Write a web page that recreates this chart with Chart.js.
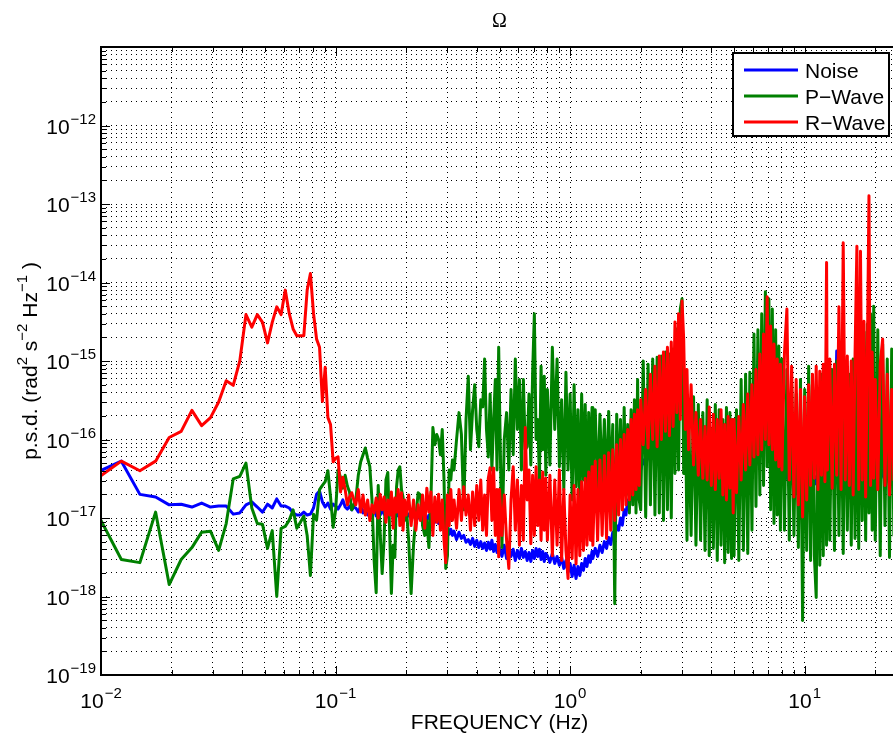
<!DOCTYPE html>
<html>
<head>
<meta charset="utf-8">
<script src="https://cdn.jsdelivr.net/npm/chart.js@4.4.0/dist/chart.umd.min.js"></script>
<style>
html,body{margin:0;padding:0;background:#fff;overflow:hidden;width:893px;height:740px}
canvas{display:block}
</style>
</head>
<body>
<canvas id="c" width="900" height="740"></canvas>
<script>
// ---------------- DATA ----------------
const chartTitle = 'Ω';
const xAxisTitle = 'FREQUENCY (Hz)';
const seriesNames = ['Noise', 'P−Wave', 'R−Wave'];
const seriesColors = ['#0000ff', '#008000', '#ff0000'];

const xTickValues = [0.01, 0.1, 1, 10];
const xTickExponents = ['−2', '−1', '0', '1'];
const yTickValues = [1e-19, 1e-18, 1e-17, 1e-16, 1e-15, 1e-14, 1e-13, 1e-12];
const yTickExponents = ['−19', '−18', '−17', '−16', '−15', '−14', '−13', '−12'];

// low-frequency bins (Hz)
const freqLow = [0.00977, 0.01221, 0.01465, 0.01709, 0.01953, 0.02197, 0.02441, 0.02686, 0.0293, 0.03174,
  0.03418, 0.03662, 0.03906, 0.0415, 0.04395, 0.04639, 0.04883, 0.05127, 0.05371, 0.05615,
  0.05859, 0.06104, 0.06348, 0.06592, 0.06836, 0.0708, 0.07324, 0.07568, 0.07813, 0.08057,
  0.08301, 0.08545, 0.08789, 0.09033, 0.09277, 0.09521, 0.09766, 0.1001, 0.1025, 0.105,
  0.1074, 0.1099, 0.1123, 0.1147, 0.1172, 0.1196];

// higher-frequency points (Hz)
const freqHigh = [
  0.122,0.125,0.128,0.131,0.134,0.137,0.14,0.143,0.146,0.149,0.152,0.155,0.158,0.161,0.164,0.167,0.17,0.173,0.176,0.179,0.182,0.185,0.188,0.191,0.194,0.197,
  0.2,0.205,0.21,0.215,0.22,0.225,0.23,0.235,0.24,0.245,0.25,0.255,0.26,0.265,0.27,0.275,0.28,0.285,0.29,0.295,0.3,0.305,0.31,0.315,
  0.32,0.328,0.336,0.344,0.352,0.36,0.368,0.376,0.384,0.392,0.4,0.408,0.416,0.424,0.432,0.44,0.448,0.456,0.464,0.472,0.48,0.488,0.496,
  0.5,0.512,0.524,0.536,0.548,0.56,0.572,0.584,0.596,0.608,0.62,0.632,0.644,0.656,0.668,0.68,0.692,0.704,0.716,0.728,0.74,0.752,0.764,0.776,0.788,
  0.8,0.82,0.84,0.86,0.88,0.9,0.92,0.94,0.96,0.98,1.0,1.02,1.04,1.06,1.08,1.1,1.12,1.14,1.16,1.18,1.2,1.22,1.24,
  1.25,1.28,1.31,1.34,1.37,1.4,1.43,1.46,1.49,1.52,1.55,1.58,1.61,1.64,1.67,1.7,1.73,1.76,1.79,1.82,1.85,1.88,1.91,1.94,1.97,
  2.0,2.05,2.1,2.15,2.2,2.25,2.3,2.35,2.4,2.45,2.5,2.55,2.6,2.65,2.7,2.75,2.8,2.85,2.9,2.95,3.0,3.05,3.1,3.15,
  3.2,3.28,3.36,3.44,3.52,3.6,3.68,3.76,3.84,3.92,4.0,4.08,4.16,4.24,4.32,4.4,4.48,4.56,4.64,4.72,4.8,4.88,4.96,
  5.0,5.12,5.24,5.36,5.48,5.6,5.72,5.84,5.96,6.08,6.2,6.32,6.44,6.56,6.68,6.8,6.92,7.04,7.16,7.28,7.4,7.52,7.64,7.76,7.88,
  8.0,8.2,8.4,8.6,8.8,9.0,9.2,9.4,9.6,9.8,10.0,10.2,10.4,10.6,10.8,11.0,11.2,11.4,11.6,11.8,12.0,12.2,12.4,
  12.5,12.8,13.1,13.4,13.7,14.0,14.3,14.6,14.9,15.2,15.5,15.8,16.1,16.4,16.7,17.0,17.3,17.6,17.9,18.2,18.5,18.8,19.1,19.4,19.7,
  20,20.5,21,21.5,22,22.5,23,23.5,24,24.5,25];

// Noise p.s.d.
const noiseLow = [3.9e-17, 5.3e-17, 2.0e-17, 1.85e-17, 1.47e-17, 1.5e-17, 1.38e-17, 1.55e-17, 1.38e-17, 1.42e-17,
  1.42e-17, 1.12e-17, 1.16e-17, 1.47e-17, 1.6e-17, 1.38e-17, 1.19e-17, 1.5e-17, 1.34e-17, 1.75e-17,
  1.42e-17, 1.42e-17, 1.34e-17, 1.16e-17, 1.09e-17, 1.09e-17, 1.19e-17, 1.09e-17, 1.12e-17, 1.34e-17,
  2.0e-17, 2.2e-17, 1.6e-17, 1.38e-17, 1.55e-17, 1.3e-17, 1.5e-17, 1.42e-17, 1.3e-17, 1.47e-17,
  1.7e-17, 1.38e-17, 1.3e-17, 1.42e-17, 1.27e-17, 1.38e-17];
const noiseHigh = [
  1.34e-17,1.19e-17,1.42e-17,1.16e-17,1.3e-17,1.09e-17,1.27e-17,1.12e-17,1.34e-17,1.06e-17,1.23e-17,1.09e-17,1.3e-17,1.12e-17,1.27e-17,1.03e-17,1.23e-17,1.09e-17,1.34e-17,1.16e-17,1.27e-17,1.06e-17,1.23e-17,1.12e-17,1.3e-17,1.09e-17,
  1.19e-17,1.06e-17,1.23e-17,1.03e-17,1.19e-17,1.0e-17,1.16e-17,9.6e-18,1.12e-17,9.3e-18,1.09e-17,9.0e-18,1.06e-17,8.8e-18,1.03e-17,8.5e-18,9.6e-18,7.8e-18,8.3e-18,7.0e-18,7.6e-18,6.2e-18,7.2e-18,6.0e-18,
  6.8e-18,5.3e-18,6.6e-18,5.5e-18,6.0e-18,4.9e-18,5.3e-18,4.6e-18,5.5e-18,4.35e-18,5.2e-18,4.2e-18,5.0e-18,4.1e-18,4.8e-18,3.86e-18,4.9e-18,4.0e-18,5.2e-18,3.75e-18,4.6e-18,3.64e-18,4.5e-18,
  4.1e-18,3.24e-18,4.5e-18,3.05e-18,4.2e-18,3.24e-18,4.0e-18,2.88e-18,3.86e-18,3.05e-18,4.1e-18,3.15e-18,3.75e-18,2.88e-18,3.64e-18,2.8e-18,3.86e-18,3.05e-18,4.1e-18,3.24e-18,4.0e-18,2.96e-18,3.75e-18,2.8e-18,3.54e-18,
  3.3e-18,2.72e-18,3.54e-18,2.64e-18,3.24e-18,2.5e-18,3.15e-18,2.28e-18,2.88e-18,2.02e-18,2.64e-18,1.8e-18,2.5e-18,1.7e-18,2.41e-18,1.85e-18,2.64e-18,2.15e-18,3.05e-18,2.41e-18,3.3e-18,2.72e-18,3.75e-18,
  3.05e-18,4.1e-18,3.24e-18,4.5e-18,3.64e-18,5.0e-18,4.1e-18,5.65e-18,4.6e-18,6.6e-18,5.65e-18,8.0e-18,7.0e-18,1.0e-17,8.1e-18,1.27e-17,1.09e-17,1.7e-17,1.42e-17,2.3e-17,1.8e-17,3.2e-17,2.4e-17,4.75e-17,3.5e-17,
  4.1e-17,5.5e-17,4.6e-17,6.4e-17,5.5e-17,7.8e-17,6.8e-17,1.0e-16,8.3e-17,1.27e-16,1.0e-16,1.42e-16,1.19e-16,1.8e-16,1.42e-16,2.28e-16,1.8e-16,2.8e-16,2.28e-16,3.43e-16,4.1e-16,1.8e-16,8.6e-17,6.4e-17,
  5.2e-17,4.1e-17,4.75e-17,3.5e-17,4.35e-17,3.2e-17,4.1e-17,2.9e-17,3.86e-17,3.05e-17,3.64e-17,2.72e-17,3.43e-17,2.56e-17,3.2e-17,2.4e-17,3.05e-17,2.28e-17,3.0e-17,2.35e-17,3.1e-17,2.5e-17,3.3e-17,
  2.6e-17,3.5e-17,2.4e-17,3.86e-17,2.72e-17,4.35e-17,3.05e-17,5.2e-17,3.64e-17,6.4e-17,4.75e-17,8.6e-17,6.4e-17,1.16e-16,8.6e-17,1.8e-16,1.34e-16,1.0e-16,6.4e-17,5.2e-17,4.1e-17,3.5e-17,3.05e-17,3.2e-17,2.6e-17,
  3.5e-17,4.35e-17,3.2e-17,4.1e-17,2.9e-17,3.64e-17,2.56e-17,3.3e-17,2.4e-17,3.1e-17,2.28e-17,3.05e-17,2.4e-17,3.2e-17,2.56e-17,3.43e-17,2.72e-17,3.64e-17,2.9e-17,3.86e-17,3.05e-17,4.1e-17,3.2e-17,
  3.05e-17,4.1e-17,2.72e-17,3.86e-17,1.34e-15,3.2e-17,2.56e-17,3.64e-17,2.72e-17,4.1e-17,2.9e-17,3.86e-17,2.56e-17,3.64e-17,2.72e-17,4.1e-17,3.05e-17,4.35e-17,3.2e-17,4.6e-17,3.43e-17,4.9e-17,3.64e-17,4.6e-17,3.43e-17,
  3.2e-17,4.35e-17,3.05e-17,4.1e-17,2.9e-17,3.86e-17,2.72e-17,3.64e-17,2.56e-17,3.43e-17,2.9e-17];

// P-Wave p.s.d.
const pWaveLow = [1.06e-17, 2.96e-18, 2.7e-18, 1.19e-17, 1.42e-18, 2.96e-18, 4.2e-18, 6.6e-18, 6.8e-18, 3.86e-18,
  8.5e-18, 3.15e-17, 3.4e-17, 5.0e-17, 1.34e-17, 8.5e-18, 8.3e-18, 4.1e-18, 6.9e-18, 1.0e-18,
  7.4e-18, 7.8e-18, 9.4e-18, 1.27e-17, 7.4e-18, 8.8e-18, 1.06e-17, 6.0e-18, 1.85e-18, 1.12e-17,
  9.4e-18, 2.3e-17, 2.6e-17, 2.9e-17, 4.0e-17, 1.85e-17, 7.6e-18, 1.27e-17, 4.1e-17, 3.3e-17,
  2.4e-17, 3.5e-17, 2.56e-17, 2.15e-17, 1.27e-17, 1.47e-17];
const pWaveHigh = [
  1.7e-17,3.5e-17,5.2e-17,6.4e-17,7.8e-17,5.8e-17,4.5e-17,1.7e-17,2.9e-18,1.12e-18,2.6e-17,6.4e-18,1.96e-18,5.2e-18,3.05e-17,3.8e-17,7.0e-18,1.09e-18,4.5e-18,3.15e-18,2.5e-17,4.1e-17,4.5e-17,2.3e-17,1.85e-17,9.3e-18,
  1.47e-17,5.2e-18,1.09e-18,4.5e-18,1.03e-17,2.1e-17,1.96e-17,8.0e-18,6.0e-18,9.3e-18,4.2e-18,1.7e-17,1.42e-16,8.6e-17,1.16e-16,1.0e-16,6.4e-17,1.34e-16,3.05e-17,2.28e-18,3.3e-18,4.1e-17,3.05e-17,5.5e-17,
  4.1e-17,1.0e-16,2.2e-16,1.16e-16,1.27e-17,1.8e-16,6.4e-16,7.4e-17,2.4e-16,5.0e-16,1.34e-16,8.1e-17,3.2e-16,2.6e-16,1.06e-15,1.34e-16,6.0e-17,3.8e-16,4.1e-17,1.8e-16,5.8e-16,4.1e-17,1.5e-15,
  3.2e-16,4.2e-18,1.0e-16,2.2e-16,4.1e-17,4.35e-16,6.4e-17,1.06e-15,1.34e-16,5.8e-16,4.1e-17,5.8e-16,7.4e-17,8.1e-17,3.8e-16,4.75e-17,6.8e-16,4.0e-15,1.0e-16,1.8e-16,3.05e-17,8.6e-16,7.4e-17,6.4e-16,3.5e-17,
  4.35e-16,4.75e-17,1.5e-15,1.34e-16,1.06e-15,4.5e-17,3.2e-16,2.3e-17,7.2e-16,4.1e-17,3.8e-16,1.7e-17,5.0e-16,2.5e-17,2.4e-16,1.16e-17,3.8e-16,3.05e-17,2.8e-16,1.47e-17,2.2e-16,2.5e-17,2.56e-16,
  3.05e-17,2.4e-16,1.96e-17,2.1e-16,2.6e-17,1.8e-16,1.85e-17,2.28e-16,2.3e-17,1.55e-16,8.1e-19,2.1e-16,1.7e-17,1.8e-16,1.27e-17,2.56e-16,1.96e-17,1.55e-16,1.16e-17,2.4e-16,1.47e-17,3.2e-16,1.16e-17,5.8e-16,1.7e-17,
  1.27e-17,1.0e-15,1.03e-17,9.1e-16,1.47e-17,1.06e-15,1.09e-17,1.12e-15,1.16e-17,1.16e-15,9.3e-18,1.3e-15,1.27e-17,1.23e-15,1.0e-17,1.42e-15,3.7e-17,2.56e-15,4.1e-17,4.6e-15,6.2e-15,3.7e-17,3.2e-16,5.2e-18,
  2.4e-16,6.0e-18,3.5e-16,4.5e-18,2.8e-16,5.2e-18,2.2e-16,3.86e-18,3.2e-16,3.3e-18,1.34e-16,4.1e-18,2.8e-16,2.88e-18,2.4e-16,4.5e-18,1.8e-16,2.7e-18,2.56e-16,3.64e-18,2.2e-16,3.05e-18,1.8e-16,
  3.3e-18,2.4e-16,2.88e-18,5.8e-16,3.86e-18,6.8e-16,3.54e-18,7.2e-16,7.0e-18,2.2e-15,1.4e-17,2.5e-15,1.96e-17,4.0e-15,2.6e-17,7.6e-15,4.5e-17,6.2e-15,1.27e-17,4.6e-15,8.5e-18,2.5e-15,1.09e-17,1.55e-15,7.0e-18,
  1.06e-15,7.0e-18,7.8e-16,5.2e-18,5.0e-16,6.0e-18,3.8e-16,4.2e-18,5.8e-16,4.95e-19,4.35e-16,3.86e-18,8.6e-16,2.88e-18,5.8e-16,3.3e-18,9.7e-19,4.35e-16,2.5e-18,6.8e-16,3.3e-18,9.1e-16,4.5e-18,
  9.1e-16,5.2e-18,7.8e-16,3.86e-18,1.0e-15,6.0e-18,5.8e-16,3.54e-18,8.6e-16,7.0e-18,6.8e-16,4.5e-18,1.06e-15,5.5e-18,7.8e-16,4.1e-18,1.9e-15,9.3e-18,2.35e-15,5.2e-18,2.96e-15,1.16e-17,4.0e-15,7.0e-18,5.0e-15,
  5.2e-18,2.5e-15,3.3e-18,1.65e-15,8.0e-18,1.06e-15,3.15e-18,1.42e-15,6.0e-18,7.8e-16,4.5e-18];

// R-Wave p.s.d.
const rWaveLow = [3.3e-17, 5.3e-17, 4.0e-17, 5.3e-17, 1.06e-16, 1.27e-16, 2.35e-16, 1.5e-16, 1.9e-16, 3.0e-16,
  5.6e-16, 4.9e-16, 1.0e-15, 3.9e-15, 2.7e-15, 3.9e-15, 3.1e-15, 1.7e-15, 3.1e-15, 4.9e-15,
  3.9e-15, 8.0e-15, 4.0e-15, 2.56e-15, 2.1e-15, 2.1e-15, 2.1e-15, 8.0e-15, 1.3e-14, 4.0e-15,
  1.9e-15, 1.5e-15, 3.05e-16, 8.3e-16, 1.9e-16, 1.55e-16, 5.2e-17, 5.8e-17, 6.0e-17, 2.15e-17,
  3.3e-17, 2.3e-17, 1.47e-17, 1.85e-17, 2.1e-17, 1.7e-17];
const rWaveHigh = [
  1.47e-17,2.3e-17,1.19e-17,1.96e-17,1.09e-17,1.7e-17,9.3e-18,1.47e-17,1.16e-17,1.8e-17,1.0e-17,2.0e-17,1.27e-17,1.85e-17,8.8e-18,1.7e-17,1.09e-17,2.15e-17,7.4e-18,1.8e-17,1.19e-17,2.3e-17,8.0e-18,2.1e-17,7.0e-18,1.7e-17,
  1.09e-17,1.96e-17,8.0e-18,1.7e-17,7.0e-18,1.47e-17,9.3e-18,1.96e-17,7.4e-18,2.4e-17,1.19e-17,2.15e-17,6.0e-18,1.85e-17,8.8e-18,2.0e-17,7.0e-18,1.7e-17,5.2e-18,2.7e-18,1.96e-17,8.0e-18,2.3e-17,9.3e-18,
  1.7e-17,7.4e-18,2.3e-17,9.3e-18,2.5e-17,1.09e-17,1.96e-17,7.0e-18,2.15e-17,8.0e-18,2.6e-17,9.3e-18,3.05e-17,7.0e-18,1.96e-17,6.0e-18,3.2e-17,4.35e-17,9.3e-18,4.35e-17,6.0e-18,2.3e-17,3.2e-18,
  2.3e-17,6.0e-18,1.96e-17,5.2e-18,2.28e-18,1.7e-17,4.5e-17,7.0e-18,3.05e-17,4.5e-18,2.6e-17,5.2e-18,1.42e-16,1.7e-17,4.1e-17,4.7e-18,3.5e-17,6.0e-18,4.5e-17,8.0e-18,3.05e-17,5.2e-18,3.86e-17,7.0e-18,3.2e-17,
  5.2e-18,3.5e-17,3.3e-18,3.05e-17,4.5e-18,4.1e-17,2.88e-18,2.3e-17,3.86e-18,1.7e-18,1.96e-17,3.05e-18,2.6e-17,2.6e-18,2.3e-17,3.3e-18,2.9e-17,3.86e-18,3.2e-17,4.5e-18,3.86e-17,5.2e-18,4.5e-17,
  4.5e-18,5.3e-17,5.2e-18,5.5e-17,6.0e-18,6.2e-17,5.5e-18,6.8e-17,7.0e-18,7.4e-17,9.3e-18,8.6e-17,1.09e-17,1.0e-16,1.27e-17,1.16e-16,1.47e-17,1.34e-16,1.7e-17,1.8e-16,1.96e-17,2.1e-16,2.3e-17,2.4e-16,2.6e-17,
  3.2e-16,8.6e-17,4.35e-16,7.8e-17,6.8e-16,1.0e-16,8.6e-16,8.1e-17,1.16e-15,1.0e-16,1.3e-15,1.27e-16,1.5e-15,1.12e-16,1.75e-15,1.46e-16,3.15e-15,2.2e-16,4.0e-15,1.8e-16,5.8e-15,1.9e-15,1.34e-16,7.8e-16,
  7.4e-17,5.0e-16,4.75e-17,2.2e-16,3.5e-17,1.8e-16,3.2e-17,1.46e-16,3.05e-17,2.6e-16,2.6e-17,2.1e-16,2.3e-17,1.8e-16,3.2e-17,2.4e-16,1.96e-17,1.55e-16,1.7e-17,1.96e-16,2.4e-17,1.8e-16,1.16e-17,
  1.8e-16,2.1e-17,1.96e-16,3.05e-17,2.8e-16,4.1e-17,3.8e-16,4.75e-17,5.0e-16,6.0e-17,7.8e-16,6.4e-17,1.23e-15,7.4e-17,2.2e-15,1.0e-16,6.6e-15,8.6e-17,2.8e-15,7.4e-17,1.65e-15,5.5e-17,1.06e-15,4.5e-17,9.1e-16,
  4.1e-17,1.23e-15,4.6e-15,3.05e-17,8.6e-16,1.85e-17,5.8e-16,1.47e-17,4.35e-16,1.03e-17,3.5e-16,1.7e-17,5.0e-16,2.6e-17,6.8e-16,3.2e-17,8.6e-16,2.3e-17,7.4e-16,3.5e-17,9.1e-16,2.9e-17,1.8e-14,
  4.1e-17,1.06e-15,2.4e-17,9.1e-16,3.5e-17,4.9e-15,2.3e-17,3.2e-14,3.05e-17,1.16e-15,2.6e-17,1.0e-15,1.96e-17,1.23e-15,2.9e-14,2.3e-17,2.5e-14,3.05e-17,3.2e-15,1.85e-17,1.06e-15,1.27e-13,2.6e-17,1.3e-15,3.2e-17,
  5.8e-16,2.3e-17,9.1e-16,1.9e-15,2.6e-17,6.8e-16,1.96e-17,4.35e-16,3.05e-17,5.0e-16,2.4e-17];

// ---------------- BUILD ----------------
const freqAll = freqLow.concat(freqHigh);
function pts(low, high) {
  const v = low.concat(high);
  const n = Math.min(v.length, freqAll.length);
  const out = [];
  for (let i = 0; i < n; i++) out.push({x: freqAll[i], y: v[i]});
  return out;
}
const seriesValues = [pts(noiseLow, noiseHigh), pts(pWaveLow, pWaveHigh), pts(rWaveLow, rWaveHigh)];

const FONT = '"Liberation Sans", Arial, Helvetica, sans-serif';
const BASE = 21, SUP = 15;

function minorTicks(lo, hi) {
  const out = [];
  for (let e = Math.floor(Math.log10(lo)) ; e <= Math.ceil(Math.log10(hi)); e++) {
    for (let m = 1; m <= 9; m++) {
      const v = parseFloat((m * Math.pow(10, e)).toPrecision(6));
      if (v >= lo * 0.9999 && v <= hi * 1.0001) out.push({value: v});
    }
  }
  return out;
}
function isMajor(v) { const l = Math.log10(v); return Math.abs(l - Math.round(l)) < 1e-6; }

function drawPow(ctx, x, y, base, exp, align) {
  ctx.font = BASE + 'px ' + FONT; const wb = ctx.measureText(base).width;
  ctx.font = SUP + 'px ' + FONT; const we = ctx.measureText(exp).width;
  const total = wb + 1 + we;
  const x0 = align === 'center' ? x - total / 2 : x - total;
  ctx.textAlign = 'left'; ctx.textBaseline = 'alphabetic';
  ctx.font = BASE + 'px ' + FONT; ctx.fillText(base, x0, y);
  ctx.font = SUP + 'px ' + FONT; ctx.fillText(exp, x0 + wb + 1, y - 10);
}

const decor = {
  id: 'decor',
  afterDatasetsDraw(chart) {
    const ctx = chart.ctx, a = chart.chartArea;
    const xs = chart.scales.x, ys = chart.scales.y;
    ctx.save();
    ctx.strokeStyle = '#000'; ctx.lineWidth = 1;
    // inner tick marks
    ctx.beginPath();
    xs.ticks.forEach(t => {
      const px = Math.round(xs.getPixelForValue(t.value)) + 0.5;
      const L = isMajor(t.value) ? 9 : 5;
      ctx.moveTo(px, a.bottom); ctx.lineTo(px, a.bottom - L);
      ctx.moveTo(px, a.top); ctx.lineTo(px, a.top + L);
    });
    ys.ticks.forEach(t => {
      const py = Math.round(ys.getPixelForValue(t.value)) + 0.5;
      const L = isMajor(t.value) ? 9 : 5;
      ctx.moveTo(a.left, py); ctx.lineTo(a.left + L, py);
    });
    ctx.stroke();
    // frame
    ctx.lineWidth = 2;
    ctx.beginPath();
    ctx.moveTo(a.right + 2, a.top); ctx.lineTo(a.left, a.top); ctx.lineTo(a.left, a.bottom); ctx.lineTo(a.right + 2, a.bottom);
    ctx.stroke();

    // legend
    const bx = 733, by = 53, bw = 156, bh = 83;
    ctx.fillStyle = '#fff'; ctx.fillRect(bx, by, bw, bh);
    ctx.lineWidth = 2; ctx.strokeStyle = '#000'; ctx.strokeRect(bx, by, bw, bh);
    const rows = [70, 96, 122];
    seriesNames.forEach((name, i) => {
      ctx.strokeStyle = seriesColors[i]; ctx.lineWidth = 3;
      ctx.beginPath(); ctx.moveTo(744, rows[i]); ctx.lineTo(798, rows[i]); ctx.stroke();
      ctx.fillStyle = '#000'; ctx.font = BASE + 'px ' + FONT;
      ctx.textAlign = 'left'; ctx.textBaseline = 'alphabetic';
      ctx.fillText(name, 805, rows[i] + 8);
    });

    // tick labels
    ctx.fillStyle = '#000';
    xTickValues.forEach((v, i) => {
      drawPow(ctx, xs.getPixelForValue(v), 708, '10', xTickExponents[i], 'center');
    });
    yTickValues.forEach((v, i) => {
      drawPow(ctx, 96, ys.getPixelForValue(v) + 8, '10', yTickExponents[i], 'right');
    });

    // x title
    const cx = (a.left + a.right) / 2;
    ctx.font = BASE + 'px ' + FONT; ctx.textAlign = 'center'; ctx.textBaseline = 'alphabetic';
    ctx.fillText(xAxisTitle, cx, 729);

    // title
    ctx.font = '20px "Liberation Serif", "DejaVu Serif", serif';
    ctx.fillText(chartTitle, cx, 27);

    // y title (rotated, with superscripts)
    const segs = [['p.s.d. (rad', 0], ['2', 1], [' s', 0], ['−2', 1], [' Hz', 0], ['−1', 1], [' )', 0]];
    let total = 0;
    segs.forEach(s => { ctx.font = (s[1] ? SUP : BASE) + 'px ' + FONT; s.push(ctx.measureText(s[0]).width); total += s[2]; });
    ctx.translate(37, (a.top + a.bottom) / 2);
    ctx.rotate(-Math.PI / 2);
    ctx.textAlign = 'left';
    let px = -total / 2;
    segs.forEach(s => {
      ctx.font = (s[1] ? SUP : BASE) + 'px ' + FONT;
      ctx.fillText(s[0], px, s[1] ? -10 : 0);
      px += s[2];
    });
    ctx.restore();
  }
};

new Chart(document.getElementById('c'), {
  type: 'line',
  data: {
    datasets: seriesNames.map((name, i) => ({
      label: name,
      data: seriesValues[i],
      borderColor: seriesColors[i],
      backgroundColor: seriesColors[i],
      borderWidth: 3,
      pointRadius: 0,
      tension: 0,
      fill: false,
      borderJoinStyle: 'round',
      borderCapStyle: 'round',
      order: 3 - i,
      clip: 0
    }))
  },
  options: {
    responsive: false,
    animation: false,
    events: [],
    layout: { padding: { left: 101, top: 47, right: 2, bottom: 65 } },
    plugins: { legend: { display: false }, title: { display: false }, tooltip: { enabled: false } },
    scales: {
      x: {
        type: 'logarithmic', min: 0.01, max: 25,
        afterBuildTicks: s => { s.ticks = minorTicks(0.01, 25); },
        ticks: { display: false },
        grid: { color: '#000', lineWidth: 1, drawTicks: false },
        border: { display: false, dash: [1, 4] },
        title: { display: false }
      },
      y: {
        type: 'logarithmic', min: 1e-19, max: 1e-11,
        afterBuildTicks: s => { s.ticks = minorTicks(1e-19, 1e-11); },
        ticks: { display: false },
        grid: { color: '#000', lineWidth: 1, drawTicks: false },
        border: { display: false, dash: [1, 4] },
        title: { display: false }
      }
    }
  },
  plugins: [decor]
});
</script>
</body>
</html>
